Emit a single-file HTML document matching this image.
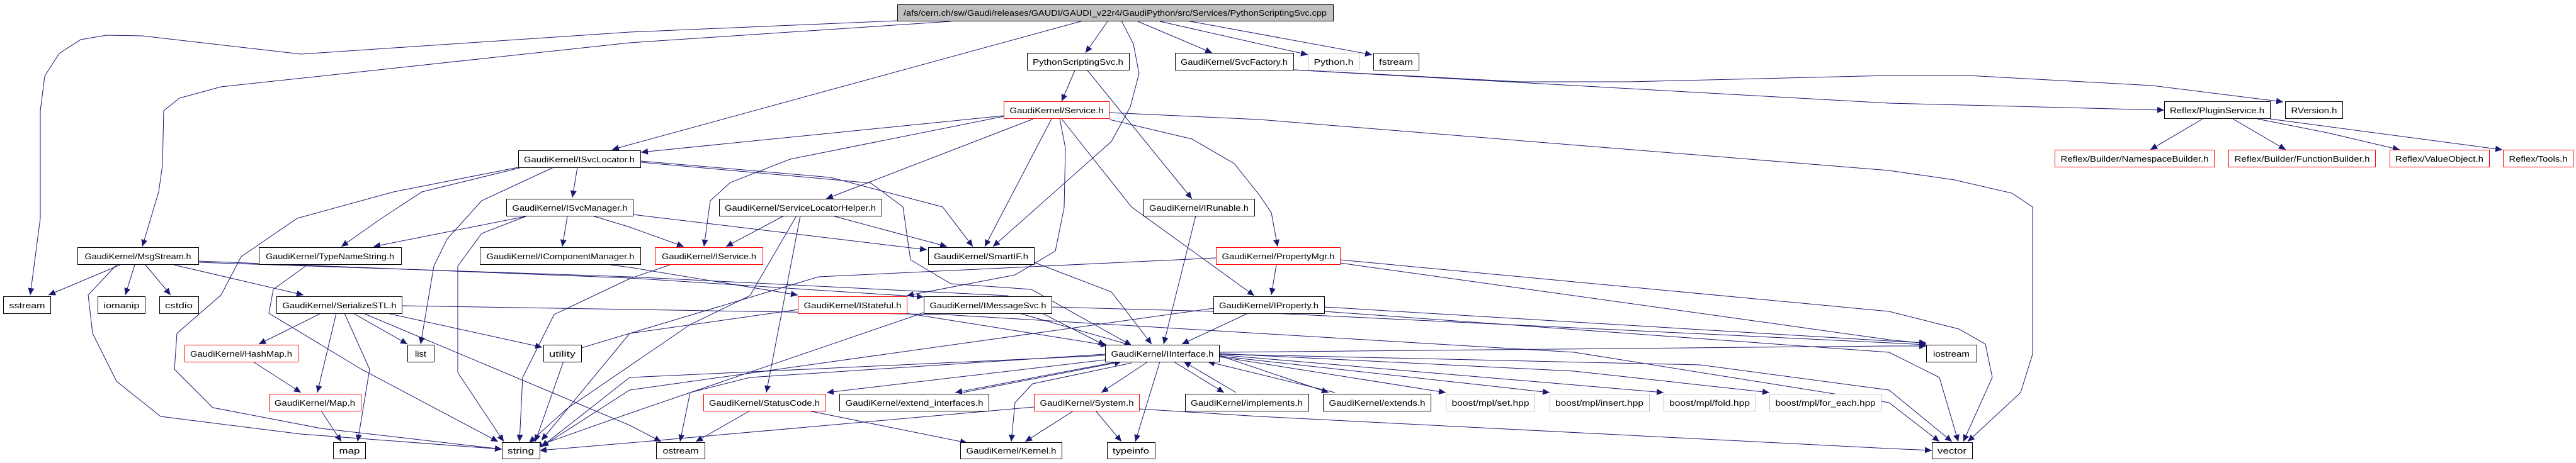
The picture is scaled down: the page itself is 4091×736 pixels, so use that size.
<!DOCTYPE html>
<html><head><meta charset="utf-8"><style>
html,body{margin:0;padding:0;background:#fff;}
svg{display:block;}
text{font-family:"Liberation Sans",sans-serif;font-size:13px;fill:#000;}
.e{fill:none;stroke:#191970;stroke-width:1;}
</style></head><body>
<svg width="4091" height="736" viewBox="0 0 4091 736" xmlns="http://www.w3.org/2000/svg">
<defs><marker id="a" markerUnits="userSpaceOnUse" markerWidth="12" markerHeight="10" refX="11" refY="5" orient="auto"><path d="M0,0 L11,5 L0,10 z" fill="#191970"/></marker></defs>
<g id="edges">
<polyline class="e" marker-end="url(#a)" points="1425,33 1000,51 478,86 226,57 169,56 128,63 94,85 71,121 64,176 64,347 48,469"/>
<polyline class="e" marker-end="url(#a)" points="1510,34 1000,68 351,138 285,156 260,176 258,263 252,305 226,392"/>
<polyline class="e" marker-end="url(#a)" points="1720,33 1000,230 972,238"/>
<polyline class="e" marker-end="url(#a)" points="1759,34 1724,84"/>
<polyline class="e" marker-end="url(#a)" points="1781,33 1800,70 1809,117 1795,170 1765,225 1577,392"/>
<polyline class="e" marker-end="url(#a)" points="1807,34 1925,84"/>
<polyline class="e" marker-end="url(#a)" points="1842,34 2077,87"/>
<polyline class="e" marker-end="url(#a)" points="1885,33 2179,87"/>
<polyline class="e" marker-end="url(#a)" points="1707,112 1686,161"/>
<polyline class="e" marker-end="url(#a)" points="1727,112 1893,316"/>
<polyline class="e" marker-end="url(#a)" points="2054,111 3000,164 3437,175"/>
<polyline class="e" marker-end="url(#a)" points="2054,111 2415,130 2587,130 3000,120 3125,120 3418,136 3626,162"/>
<polyline class="e" marker-end="url(#a)" points="3498,189 3415,238"/>
<polyline class="e" marker-end="url(#a)" points="3546,189 3630,238"/>
<polyline class="e" marker-end="url(#a)" points="3585,189 3696,211 3811,238"/>
<polyline class="e" marker-end="url(#a)" points="3605,189 3974,238"/>
<polyline class="e" marker-end="url(#a)" points="1594,184 1018,242"/>
<polyline class="e" marker-end="url(#a)" points="1594,185 1255,253 1160,290 1128,319 1118,392"/>
<polyline class="e" marker-end="url(#a)" points="1641,189 1312,316"/>
<polyline class="e" marker-end="url(#a)" points="1670,189 1564,392"/>
<polyline class="e" marker-end="url(#a)" points="1683,189 1692,235 1690,330 1676,399 1612,437 1440,470"/>
<polyline class="e" marker-end="url(#a)" points="1762,190 1893,221 1960,260 2000,310 2019,338 2029,392"/>
<polyline class="e" marker-end="url(#a)" points="1686,189 1797,329 1992,470"/>
<polyline class="e" marker-end="url(#a)" points="1761,179 2000,190 3000,271 3104,286 3195,307 3228,329 3228,563 3209,624 3125,702"/>
<polyline class="e" marker-end="url(#a)" points="917,266 909,314"/>
<polyline class="e" marker-end="url(#a)" points="879,266 765,319 710,380 689,423 668,547"/>
<polyline class="e" marker-end="url(#a)" points="829,266 670,305 606,347 542,392"/>
<polyline class="e" marker-end="url(#a)" points="823,266 625,305 472,347 383,408 351,469 281,530 277,587 338,648 510,681 797,714"/>
<polyline class="e" marker-end="url(#a)" points="1018,256 1319,282 1497,329 1545,392"/>
<polyline class="e" marker-end="url(#a)" points="1018,258 1383,291 1434,329 1446,413 1510,451 1638,460 1797,549"/>
<polyline class="e" marker-end="url(#a)" points="835,344 593,392"/>
<polyline class="e" marker-end="url(#a)" points="901,344 893,392"/>
<polyline class="e" marker-end="url(#a)" points="835,344 765,371 727,423 727,592 800,702"/>
<polyline class="e" marker-end="url(#a)" points="944,344 1000,361 1086,392"/>
<polyline class="e" marker-end="url(#a)" points="1005,341 1472,397"/>
<polyline class="e" marker-end="url(#a)" points="969,421 1000,425 1267,469"/>
<polyline class="e" marker-end="url(#a)" points="191,421 77,469"/>
<polyline class="e" marker-end="url(#a)" points="214,421 199,469"/>
<polyline class="e" marker-end="url(#a)" points="231,421 271,469"/>
<polyline class="e" marker-end="url(#a)" points="276,421 482,469"/>
<polyline class="e" marker-end="url(#a)" points="185,421 140,469 147,530 185,606 255,662 478,690 797,714"/>
<polyline class="e" marker-end="url(#a)" points="315,415 1000,442 1467,472"/>
<polyline class="e" marker-end="url(#a)" points="315,417 1000,440 1600,470 1755,549"/>
<polyline class="e" marker-end="url(#a)" points="488,421 434,460 427,498 574,587 791,702"/>
<polyline class="e" marker-end="url(#a)" points="510,498 411,547"/>
<polyline class="e" marker-end="url(#a)" points="534,498 504,624"/>
<polyline class="e" marker-end="url(#a)" points="547,498 587,587 568,702"/>
<polyline class="e" marker-end="url(#a)" points="561,498 647,547"/>
<polyline class="e" marker-end="url(#a)" points="615,498 861,552"/>
<polyline class="e" marker-end="url(#a)" points="577,498 1000,676 1050,702"/>
<polyline class="e" marker-end="url(#a)" points="638,486 1500,500 2500,560 3000,640 3080,702"/>
<polyline class="e" marker-end="url(#a)" points="402,575 478,624"/>
<polyline class="e" marker-end="url(#a)" points="510,653 542,702"/>
<polyline class="e" marker-end="url(#a)" points="1064,421 1000,443 880,500 830,600 825,702"/>
<polyline class="e" marker-end="url(#a)" points="1245,343 1153,392"/>
<polyline class="e" marker-end="url(#a)" points="1322,343 1504,392"/>
<polyline class="e" marker-end="url(#a)" points="1271,343 1217,624"/>
<polyline class="e" marker-end="url(#a)" points="1265,343 1191,470 1096,516 900,650 840,704"/>
<polyline class="e" marker-end="url(#a)" points="1899,343 1848,547"/>
<polyline class="e" marker-end="url(#a)" points="1642,417 1765,464 1829,547"/>
<polyline class="e" marker-end="url(#a)" points="2027,421 2019,469"/>
<polyline class="e" marker-end="url(#a)" points="2128,413 3000,495 3111,523 3153,547 3164,600 3118,702"/>
<polyline class="e" marker-end="url(#a)" points="2128,418 3000,540 3059,546"/>
<polyline class="e" marker-end="url(#a)" points="1931,410 1300,440 900,560 850,702"/>
<polyline class="e" marker-end="url(#a)" points="1440,498 1759,549"/>
<polyline class="e" marker-end="url(#a)" points="1268,492 1000,530 860,700"/>
<polyline class="e" marker-end="url(#a)" points="1619,498 1797,549"/>
<polyline class="e" marker-end="url(#a)" points="1467,497 1000,657 850,710"/>
<polyline class="e" marker-end="url(#a)" points="1670,488 2000,497 3000,545 3059,548"/>
<polyline class="e" marker-end="url(#a)" points="1982,498 1877,547"/>
<polyline class="e" marker-end="url(#a)" points="2103,488 3000,542 3059,545"/>
<polyline class="e" marker-end="url(#a)" points="2103,495 3000,560 3080,600 3110,702"/>
<polyline class="e" marker-end="url(#a)" points="1927,490 1000,620 860,710"/>
<polyline class="e" marker-end="url(#a)" points="1755,572 1313,624"/>
<polyline class="e" marker-end="url(#a)" points="1775,575 1517,624"/>
<polyline class="e" marker-end="url(#a)" points="1823,575 1749,624"/>
<polyline class="e" marker-end="url(#a)" points="1842,575 1803,702"/>
<polyline class="e" marker-end="url(#a)" points="1797,577 1640,610 1612,640 1606,702"/>
<polyline class="e" marker-end="url(#a)" points="1864,575 1944,624"/>
<polyline class="e" marker-end="url(#a)" points="1936,565 2110,624"/>
<polyline class="e" marker-end="url(#a)" points="1936,567 2296,624"/>
<polyline class="e" marker-end="url(#a)" points="1936,566 2461,624"/>
<polyline class="e" marker-end="url(#a)" points="1936,564 2642,624"/>
<polyline class="e" marker-end="url(#a)" points="1936,562 2500,590 2810,624"/>
<polyline class="e" marker-end="url(#a)" points="1755,563 1191,600 1096,624 1080,702"/>
<polyline class="e" marker-end="url(#a)" points="1755,565 1000,600 860,710"/>
<polyline class="e" marker-end="url(#a)" points="1936,560 3000,550 3059,550"/>
<polyline class="e" marker-end="url(#a)" points="1936,563 2700,580 3000,620 3100,702"/>
<polyline class="e" marker-end="url(#a)" points="1529,624 1781,575"/>
<polyline class="e" marker-end="url(#a)" points="1963,624 1880,575"/>
<polyline class="e" marker-end="url(#a)" points="2120,624 1918,575"/>
<polyline class="e" marker-end="url(#a)" points="1191,653 1105,702"/>
<polyline class="e" marker-end="url(#a)" points="1284,653 1536,704"/>
<polyline class="e" marker-end="url(#a)" points="1705,653 1628,702"/>
<polyline class="e" marker-end="url(#a)" points="1740,653 1781,702"/>
<polyline class="e" marker-end="url(#a)" points="1642,647 1000,704 857,716"/>
<polyline class="e" marker-end="url(#a)" points="1809,650 2000,662 3000,713 3068,716"/>
</g>
<g id="nodes" stroke-width="1">
<rect x="1425.5" y="7.5" width="692" height="26" fill="#bfbfbf" stroke="#000"/><text x="1771" y="25" text-anchor="middle" textLength="672" lengthAdjust="spacingAndGlyphs">/afs/cern.ch/sw/Gaudi/releases/GAUDI/GAUDI_v22r4/GaudiPython/src/Services/PythonScriptingSvc.cpp</text>
<rect x="1631.5" y="84.5" width="162" height="27" fill="#fff" stroke="#000"/><text x="1712" y="103" text-anchor="middle" textLength="144" lengthAdjust="spacingAndGlyphs">PythonScriptingSvc.h</text>
<rect x="1866.5" y="84.5" width="188" height="27" fill="#fff" stroke="#000"/><text x="1960" y="103" text-anchor="middle" textLength="170" lengthAdjust="spacingAndGlyphs">GaudiKernel/SvcFactory.h</text>
<rect x="2077.5" y="84.5" width="81" height="27" fill="#fff" stroke="#bfbfbf"/><text x="2118" y="103" text-anchor="middle" textLength="63" lengthAdjust="spacingAndGlyphs">Python.h</text>
<rect x="2181.5" y="84.5" width="72" height="27" fill="#fff" stroke="#000"/><text x="2217" y="103" text-anchor="middle" textLength="54" lengthAdjust="spacingAndGlyphs">fstream</text>
<rect x="1594.5" y="161.5" width="167" height="27" fill="#fff" stroke="red"/><text x="1678" y="180" text-anchor="middle" textLength="149" lengthAdjust="spacingAndGlyphs">GaudiKernel/Service.h</text>
<rect x="3437.5" y="161.5" width="168" height="27" fill="#fff" stroke="#000"/><text x="3521" y="180" text-anchor="middle" textLength="150" lengthAdjust="spacingAndGlyphs">Reflex/PluginService.h</text>
<rect x="3629.5" y="161.5" width="91" height="27" fill="#fff" stroke="#000"/><text x="3675" y="180" text-anchor="middle" textLength="73" lengthAdjust="spacingAndGlyphs">RVersion.h</text>
<rect x="823.5" y="239.5" width="194" height="27" fill="#fff" stroke="#000"/><text x="920" y="258" text-anchor="middle" textLength="176" lengthAdjust="spacingAndGlyphs">GaudiKernel/ISvcLocator.h</text>
<rect x="3263.5" y="238.5" width="253" height="27" fill="#fff" stroke="red"/><text x="3390" y="257" text-anchor="middle" textLength="235" lengthAdjust="spacingAndGlyphs">Reflex/Builder/NamespaceBuilder.h</text>
<rect x="3539.5" y="238.5" width="233" height="27" fill="#fff" stroke="red"/><text x="3656" y="257" text-anchor="middle" textLength="215" lengthAdjust="spacingAndGlyphs">Reflex/Builder/FunctionBuilder.h</text>
<rect x="3795.5" y="238.5" width="158" height="27" fill="#fff" stroke="red"/><text x="3874" y="257" text-anchor="middle" textLength="140" lengthAdjust="spacingAndGlyphs">Reflex/ValueObject.h</text>
<rect x="3975.5" y="238.5" width="111" height="27" fill="#fff" stroke="red"/><text x="4031" y="257" text-anchor="middle" textLength="93" lengthAdjust="spacingAndGlyphs">Reflex/Tools.h</text>
<rect x="804.5" y="316.5" width="201" height="27" fill="#fff" stroke="#000"/><text x="905" y="335" text-anchor="middle" textLength="183" lengthAdjust="spacingAndGlyphs">GaudiKernel/ISvcManager.h</text>
<rect x="1142.5" y="316.5" width="258" height="27" fill="#fff" stroke="#000"/><text x="1271" y="335" text-anchor="middle" textLength="240" lengthAdjust="spacingAndGlyphs">GaudiKernel/ServiceLocatorHelper.h</text>
<rect x="1816.5" y="316.5" width="176" height="27" fill="#fff" stroke="#000"/><text x="1904" y="335" text-anchor="middle" textLength="158" lengthAdjust="spacingAndGlyphs">GaudiKernel/IRunable.h</text>
<rect x="123.5" y="393.5" width="192" height="27" fill="#fff" stroke="#000"/><text x="219" y="412" text-anchor="middle" textLength="169" lengthAdjust="spacingAndGlyphs">GaudiKernel/MsgStream.h</text>
<rect x="411.5" y="393.5" width="226" height="27" fill="#fff" stroke="#000"/><text x="524" y="412" text-anchor="middle" textLength="204" lengthAdjust="spacingAndGlyphs">GaudiKernel/TypeNameString.h</text>
<rect x="762.5" y="393.5" width="255" height="27" fill="#fff" stroke="#000"/><text x="890" y="412" text-anchor="middle" textLength="235" lengthAdjust="spacingAndGlyphs">GaudiKernel/IComponentManager.h</text>
<rect x="1040.5" y="393.5" width="171" height="27" fill="#fff" stroke="red"/><text x="1126" y="412" text-anchor="middle" textLength="150" lengthAdjust="spacingAndGlyphs">GaudiKernel/IService.h</text>
<rect x="1474.5" y="393.5" width="168" height="27" fill="#fff" stroke="#000"/><text x="1558" y="412" text-anchor="middle" textLength="150" lengthAdjust="spacingAndGlyphs">GaudiKernel/SmartIF.h</text>
<rect x="1931.5" y="393.5" width="197" height="27" fill="#fff" stroke="red"/><text x="2030" y="412" text-anchor="middle" textLength="179" lengthAdjust="spacingAndGlyphs">GaudiKernel/PropertyMgr.h</text>
<rect x="5.5" y="471.5" width="75" height="27" fill="#fff" stroke="#000"/><text x="43" y="490" text-anchor="middle" textLength="57" lengthAdjust="spacingAndGlyphs">sstream</text>
<rect x="155.5" y="471.5" width="75" height="27" fill="#fff" stroke="#000"/><text x="193" y="490" text-anchor="middle" textLength="57" lengthAdjust="spacingAndGlyphs">iomanip</text>
<rect x="253.5" y="471.5" width="62" height="27" fill="#fff" stroke="#000"/><text x="284" y="490" text-anchor="middle" textLength="44" lengthAdjust="spacingAndGlyphs">cstdio</text>
<rect x="439.5" y="471.5" width="199" height="27" fill="#fff" stroke="#000"/><text x="539" y="490" text-anchor="middle" textLength="181" lengthAdjust="spacingAndGlyphs">GaudiKernel/SerializeSTL.h</text>
<rect x="1267.5" y="471.5" width="173" height="27" fill="#fff" stroke="red"/><text x="1354" y="490" text-anchor="middle" textLength="155" lengthAdjust="spacingAndGlyphs">GaudiKernel/IStateful.h</text>
<rect x="1467.5" y="471.5" width="203" height="27" fill="#fff" stroke="#000"/><text x="1569" y="490" text-anchor="middle" textLength="185" lengthAdjust="spacingAndGlyphs">GaudiKernel/IMessageSvc.h</text>
<rect x="1927.5" y="471.5" width="176" height="27" fill="#fff" stroke="#000"/><text x="2015" y="490" text-anchor="middle" textLength="158" lengthAdjust="spacingAndGlyphs">GaudiKernel/IProperty.h</text>
<rect x="293.5" y="548.5" width="180" height="27" fill="#fff" stroke="red"/><text x="383" y="567" text-anchor="middle" textLength="162" lengthAdjust="spacingAndGlyphs">GaudiKernel/HashMap.h</text>
<rect x="647.5" y="548.5" width="42" height="27" fill="#fff" stroke="#000"/><text x="668" y="567" text-anchor="middle" textLength="18" lengthAdjust="spacingAndGlyphs">list</text>
<rect x="863.5" y="548.5" width="60" height="27" fill="#fff" stroke="#000"/><text x="893" y="567" text-anchor="middle" textLength="42" lengthAdjust="spacingAndGlyphs">utility</text>
<rect x="1755.5" y="548.5" width="181" height="27" fill="#fff" stroke="#000"/><text x="1846" y="567" text-anchor="middle" textLength="163" lengthAdjust="spacingAndGlyphs">GaudiKernel/IInterface.h</text>
<rect x="3059.5" y="548.5" width="80" height="27" fill="#fff" stroke="#000"/><text x="3099" y="567" text-anchor="middle" textLength="58" lengthAdjust="spacingAndGlyphs">iostream</text>
<rect x="427.5" y="626.5" width="146" height="27" fill="#fff" stroke="red"/><text x="500" y="645" text-anchor="middle" textLength="128" lengthAdjust="spacingAndGlyphs">GaudiKernel/Map.h</text>
<rect x="1117.5" y="626.5" width="194" height="27" fill="#fff" stroke="red"/><text x="1214" y="645" text-anchor="middle" textLength="176" lengthAdjust="spacingAndGlyphs">GaudiKernel/StatusCode.h</text>
<rect x="1333.5" y="626.5" width="237" height="27" fill="#fff" stroke="#000"/><text x="1452" y="645" text-anchor="middle" textLength="219" lengthAdjust="spacingAndGlyphs">GaudiKernel/extend_interfaces.h</text>
<rect x="1642.5" y="626.5" width="167" height="27" fill="#fff" stroke="red"/><text x="1726" y="645" text-anchor="middle" textLength="149" lengthAdjust="spacingAndGlyphs">GaudiKernel/System.h</text>
<rect x="1882.5" y="626.5" width="196" height="27" fill="#fff" stroke="#000"/><text x="1980" y="645" text-anchor="middle" textLength="178" lengthAdjust="spacingAndGlyphs">GaudiKernel/implements.h</text>
<rect x="2101.5" y="626.5" width="171" height="27" fill="#fff" stroke="#000"/><text x="2187" y="645" text-anchor="middle" textLength="153" lengthAdjust="spacingAndGlyphs">GaudiKernel/extends.h</text>
<rect x="2296.5" y="626.5" width="141" height="27" fill="#fff" stroke="#bfbfbf"/><text x="2367" y="645" text-anchor="middle" textLength="123" lengthAdjust="spacingAndGlyphs">boost/mpl/set.hpp</text>
<rect x="2461.5" y="626.5" width="158" height="27" fill="#fff" stroke="#bfbfbf"/><text x="2540" y="645" text-anchor="middle" textLength="140" lengthAdjust="spacingAndGlyphs">boost/mpl/insert.hpp</text>
<rect x="2642.5" y="626.5" width="146" height="27" fill="#fff" stroke="#bfbfbf"/><text x="2715" y="645" text-anchor="middle" textLength="128" lengthAdjust="spacingAndGlyphs">boost/mpl/fold.hpp</text>
<rect x="2810.5" y="626.5" width="177" height="27" fill="#fff" stroke="#bfbfbf"/><text x="2899" y="645" text-anchor="middle" textLength="159" lengthAdjust="spacingAndGlyphs">boost/mpl/for_each.hpp</text>
<rect x="529.5" y="703.5" width="51" height="26" fill="#fff" stroke="#000"/><text x="555" y="721" text-anchor="middle" textLength="33" lengthAdjust="spacingAndGlyphs">map</text>
<rect x="797.5" y="703.5" width="60" height="26" fill="#fff" stroke="#000"/><text x="827" y="721" text-anchor="middle" textLength="42" lengthAdjust="spacingAndGlyphs">string</text>
<rect x="1042.5" y="703.5" width="77" height="26" fill="#fff" stroke="#000"/><text x="1081" y="721" text-anchor="middle" textLength="57" lengthAdjust="spacingAndGlyphs">ostream</text>
<rect x="1525.5" y="703.5" width="161" height="26" fill="#fff" stroke="#000"/><text x="1606" y="721" text-anchor="middle" textLength="143" lengthAdjust="spacingAndGlyphs">GaudiKernel/Kernel.h</text>
<rect x="1758.5" y="703.5" width="76" height="26" fill="#fff" stroke="#000"/><text x="1796" y="721" text-anchor="middle" textLength="58" lengthAdjust="spacingAndGlyphs">typeinfo</text>
<rect x="3068.5" y="703.5" width="64" height="26" fill="#fff" stroke="#000"/><text x="3100" y="721" text-anchor="middle" textLength="46" lengthAdjust="spacingAndGlyphs">vector</text>
</g>
</svg>
</body></html>
